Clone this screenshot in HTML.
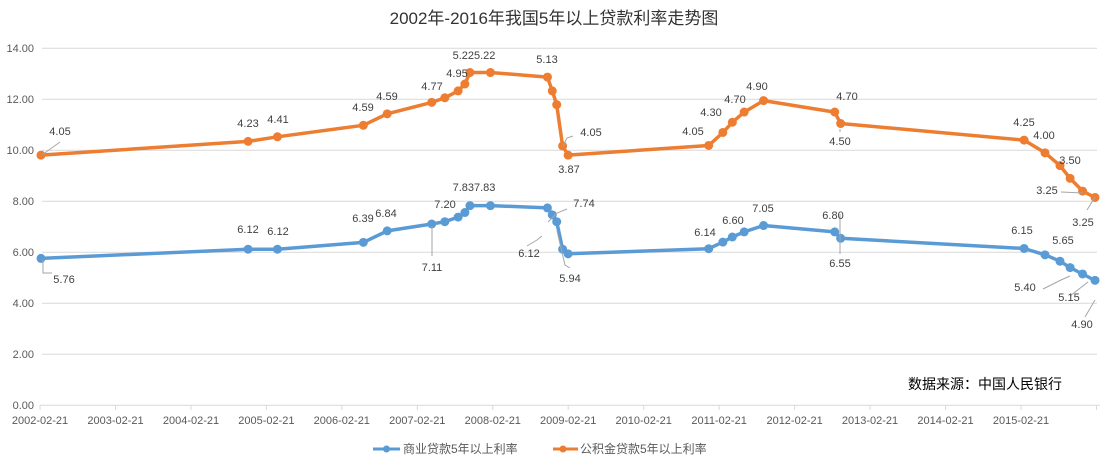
<!DOCTYPE html>
<html><head><meta charset="utf-8"><style>
body{margin:0;background:#fff;}
svg text{font-family:"Liberation Sans","Noto Sans CJK SC",sans-serif;}
</style></head><body>
<svg id="s" width="1108" height="464" viewBox="0 0 1108 464" xmlns="http://www.w3.org/2000/svg">
<rect width="1108" height="464" fill="#fff"/>
<text x="554" y="24" font-size="17" text-anchor="middle" fill="#333">2002年-2016年我国5年以上贷款利率走势图</text>
<g stroke="#d9d9d9" stroke-width="1">
<line x1="42" x2="1097" y1="48.3" y2="48.3"/><line x1="42" x2="1097" y1="99.3" y2="99.3"/>
<line x1="42" x2="1097" y1="150.3" y2="150.3"/><line x1="42" x2="1097" y1="201.3" y2="201.3"/>
<line x1="42" x2="1097" y1="252.3" y2="252.3"/><line x1="42" x2="1097" y1="303.3" y2="303.3"/>
<line x1="42" x2="1097" y1="354.3" y2="354.3"/><line x1="40" x2="1100" y1="405.3" y2="405.3"/>
</g>
<g id="ticks" stroke="#d9d9d9"></g>
<g font-size="11" fill="#595959" text-anchor="end">
<text x="34" y="52">14.00</text><text x="34" y="103">12.00</text><text x="34" y="154">10.00</text>
<text x="34" y="205">8.00</text><text x="34" y="256">6.00</text><text x="34" y="307">4.00</text>
<text x="34" y="358">2.00</text><text x="34" y="409">0.00</text>
</g>
<g font-size="11" fill="#595959" text-anchor="middle">
<text x="40" y="424">2002-02-21</text><text x="115.5" y="424">2003-02-21</text><text x="191" y="424">2004-02-21</text>
<text x="266.4" y="424">2005-02-21</text><text x="341.8" y="424">2006-02-21</text><text x="417.3" y="424">2007-02-21</text>
<text x="492.8" y="424">2008-02-21</text><text x="568.2" y="424">2009-02-21</text><text x="643.7" y="424">2010-02-21</text>
<text x="719.1" y="424">2011-02-21</text><text x="794.6" y="424">2012-02-21</text><text x="870" y="424">2013-02-21</text>
<text x="945.5" y="424">2014-02-21</text><text x="1021" y="424">2015-02-21</text>
</g>
<g id="series"></g>
<g stroke="#a6a6a6" stroke-width="1" fill="none">
<path d="M42 155 L60 142"/><path d="M43 260 L43 273 L52 273"/>
<path d="M563 146 L567 138 L573 136"/><path d="M527 246 L537 240 L542 236"/>
<path d="M548 222 L557 213 L567 209"/><path d="M557 231 L565 265 L570 268"/>
<path d="M432 226 L432 256"/><path d="M840 214 L840 254"/><path d="M840 129 L840 132"/>
<path d="M1061 192 L1083 193"/><path d="M1095 197 L1087 210"/>
<path d="M1070 276 L1061 280 L1043 289"/><path d="M1088 282 L1070 296"/><path d="M1095 300 L1085 317"/>
</g>
<g font-size="11" fill="#404040" text-anchor="middle">
<text x="60" y="135">4.05</text><text x="248" y="127">4.23</text><text x="278" y="123">4.41</text>
<text x="363" y="111">4.59</text><text x="387" y="100">4.59</text><text x="432" y="90">4.77</text>
<text x="457" y="77">4.95</text><text x="474" y="59">5.225.22</text><text x="547" y="63">5.13</text>
<text x="591" y="136">4.05</text><text x="569" y="173">3.87</text><text x="693" y="135">4.05</text>
<text x="711" y="116">4.30</text><text x="735" y="103">4.70</text><text x="757" y="90">4.90</text>
<text x="847" y="100">4.70</text><text x="840" y="145">4.50</text><text x="1024" y="126">4.25</text>
<text x="1044" y="139">4.00</text><text x="1070" y="164">3.50</text><text x="1047" y="194">3.25</text>
<text x="1083" y="226">3.25</text>
<text x="64" y="283">5.76</text><text x="248" y="233">6.12</text><text x="278" y="235">6.12</text>
<text x="363" y="222">6.39</text><text x="386" y="217">6.84</text><text x="432" y="271">7.11</text>
<text x="445" y="208">7.20</text><text x="474" y="191">7.837.83</text><text x="584" y="207">7.74</text>
<text x="529" y="257">6.12</text><text x="570" y="282">5.94</text><text x="705" y="236">6.14</text>
<text x="733" y="224">6.60</text><text x="763" y="212">7.05</text><text x="833" y="219">6.80</text>
<text x="840" y="267">6.55</text><text x="1022" y="234">6.15</text><text x="1063" y="244">5.65</text>
<text x="1025" y="291">5.40</text><text x="1069" y="301">5.15</text><text x="1082" y="328">4.90</text>
</g>
<text x="985" y="389" font-size="14" text-anchor="middle" fill="#000">数据来源：中国人民银行</text>
<g font-size="12" fill="#595959">
<line x1="373" y1="449" x2="400" y2="449" stroke="#5b9bd5" stroke-width="3"/><circle cx="386.5" cy="449" r="3.5" fill="#5b9bd5"/>
<text x="403" y="453">商业贷款5年以上利率</text>
<line x1="553" y1="449" x2="578" y2="449" stroke="#ed7d31" stroke-width="3"/><circle cx="563" cy="449" r="3.5" fill="#ed7d31"/>
<text x="580" y="453">公积金贷款5年以上利率</text>
</g>
</svg>
<script>
var d=[["2002-02-21",5.76,4.05],["2004-10-29",6.12,4.23],["2005-03-17",6.12,4.41],["2006-04-28",6.39,4.59],["2006-08-19",6.84,4.59],["2007-03-18",7.11,4.77],["2007-05-19",7.20,4.86],["2007-07-21",7.38,4.95],["2007-08-22",7.56,5.04],["2007-09-15",7.83,5.22],["2007-12-21",7.83,5.22],["2008-09-16",7.74,5.13],["2008-10-09",7.47,4.86],["2008-10-30",7.20,4.59],["2008-11-27",6.12,4.05],["2008-12-23",5.94,3.87],["2010-10-20",6.14,4.05],["2010-12-26",6.40,4.30],["2011-02-09",6.60,4.50],["2011-04-06",6.80,4.70],["2011-07-07",7.05,4.90],["2012-06-08",6.80,4.70],["2012-07-06",6.55,4.50],["2014-11-22",6.15,4.25],["2015-03-01",5.90,4.00],["2015-05-11",5.65,3.75],["2015-06-28",5.40,3.50],["2015-08-26",5.15,3.25],["2015-10-24",4.90,3.25]];
var t0=Date.parse("2002-02-21"),NS="http://www.w3.org/2000/svg";
function X(s){return 41+(Date.parse(s)-t0)/864e5*0.2111;}
function Y(v){return 405.3-25.5*v;}
var g=document.getElementById("series"),tk=document.getElementById("ticks");
for(var k=0;k<15;k++){var l=document.createElementNS(NS,"line");var x=40+k*75.46;l.setAttribute("x1",x);l.setAttribute("x2",x);l.setAttribute("y1",405);l.setAttribute("y2",410);tk.appendChild(l);}
[["#5b9bd5",function(r){return r[1];}],["#ed7d31",function(r){return r[1]+r[2];}]].forEach(function(s){
var p=d.map(function(r){return X(r[0]).toFixed(1)+","+Y(s[1](r)).toFixed(1);}).join(" ");
var pl=document.createElementNS(NS,"polyline");pl.setAttribute("points",p);pl.setAttribute("fill","none");pl.setAttribute("stroke",s[0]);pl.setAttribute("stroke-width","3.5");pl.setAttribute("stroke-linejoin","round");g.appendChild(pl);
d.forEach(function(r){var c=document.createElementNS(NS,"circle");c.setAttribute("cx",X(r[0]));c.setAttribute("cy",Y(s[1](r)));c.setAttribute("r","4.5");c.setAttribute("fill",s[0]);g.appendChild(c);});
});
</script>
</body></html>
